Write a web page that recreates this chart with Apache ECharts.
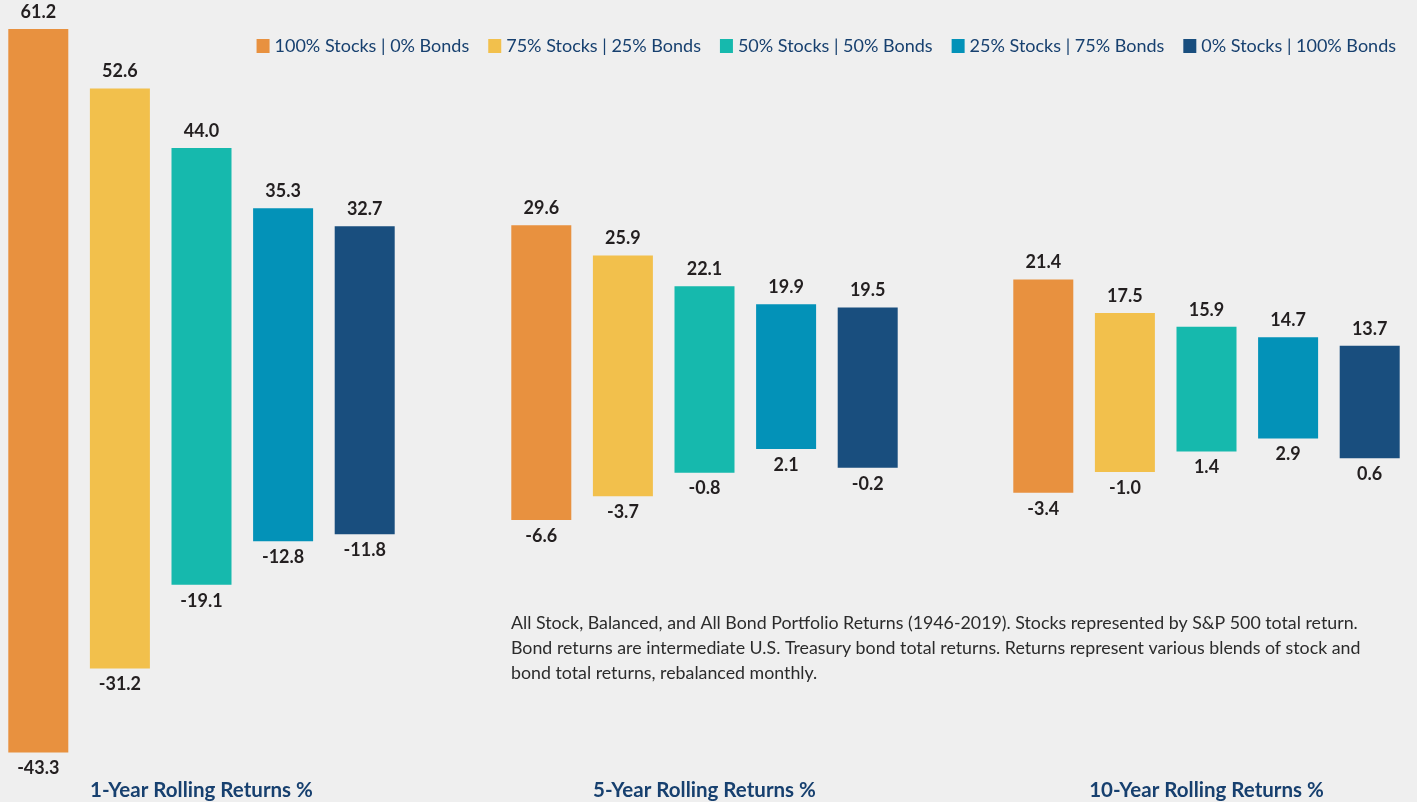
<!DOCTYPE html>
<html>
<head>
<meta charset="utf-8">
<script src="https://cdn.jsdelivr.net/npm/echarts@6/dist/echarts.min.js"></script>
<style>
html,body{margin:0;padding:0;background:#efefef;}
#chart{width:1417px;height:802px;}
</style>
</head>
<body>
<div id="chart"></div>
<script>
// ---- data ----
const groups = ['1-Year Rolling Returns %', '5-Year Rolling Returns %', '10-Year Rolling Returns %'];
const portfolios = ['100% Stocks | 0% Bonds', '75% Stocks | 25% Bonds', '50% Stocks | 50% Bonds', '25% Stocks | 75% Bonds', '0% Stocks | 100% Bonds'];
// high / low per group, in portfolio order
const high1 = [61.2, 52.6, 44.0, 35.3, 32.7];
const low1  = [-43.3, -31.2, -19.1, -12.8, -11.8];
const high5 = [29.6, 25.9, 22.1, 19.9, 19.5];
const low5  = [-6.6, -3.7, -0.8, 2.1, -0.2];
const high10 = [21.4, 17.5, 15.9, 14.7, 13.7];
const low10  = [-3.4, -1.0, 1.4, 2.9, 0.6];
const note = 'All Stock, Balanced, and All Bond Portfolio Returns (1946-2019). Stocks represented by S&P 500 total return.\nBond returns are intermediate U.S. Treasury bond total returns. Returns represent various blends of stock and\nbond total returns, rebalanced monthly.';

// ---- styles ----
const colors = ['#E8913F', '#F2C04C', '#16B9AD', '#0392B8', '#194E7E'];
const highs = [high1, high5, high10];
const lows = [low1, low5, low10];
const gridLeft = [8, 511, 1013];
const gridWidth = 387;
const yRanges = [[-44.4, 65.38], [-36.11, 57.29], [-34.5, 53.93]];
const BAR_FRAC = 60 / 387;
const STEP_FRAC = 81.6 / 387;
const FONT = 'Lato, "Noto Sans", sans-serif';

const chart = echarts.init(document.getElementById('chart'));

const grids = [], xAxes = [], yAxes = [], series = [];
groups.forEach((g, gi) => {
  grids.push({left: gridLeft[gi], width: gridWidth, top: 0, bottom: 42});
  xAxes.push({type: 'category', gridIndex: gi, data: [g],
    axisLine: {show: false}, axisTick: {show: false},
    axisLabel: {margin: 20, color: '#17406F', fontSize: 20.5, fontWeight: 'bold', fontFamily: FONT}});
  yAxes.push({type: 'value', gridIndex: gi, min: yRanges[gi][0], max: yRanges[gi][1], show: false, splitLine: {show: false}});
  portfolios.forEach((p, k) => {
    series.push({
      type: 'custom', name: p, xAxisIndex: gi, yAxisIndex: gi,
      itemStyle: {color: colors[k]},
      data: [[0, lows[gi][k], highs[gi][k]]],
      renderItem: function (params, api) {
        const top = api.coord([api.value(0), api.value(2)]);
        const bot = api.coord([api.value(0), api.value(1)]);
        const band = api.size([1, 0])[0];
        const w = band * BAR_FRAC;
        const cx = top[0] + (k - 2) * band * STEP_FRAC;
        return {type: 'group', children: [
          {type: 'rect', shape: {x: cx - w / 2, y: top[1], width: w, height: bot[1] - top[1]}, style: {fill: api.visual('color')}},
          {type: 'text', style: {text: api.value(2).toFixed(1), x: cx, y: top[1] - 8, align: 'center', verticalAlign: 'bottom', fill: '#231F20', font: 'bold 18px ' + FONT}},
          {type: 'text', style: {text: api.value(1).toFixed(1), x: cx, y: bot[1] + 7, align: 'center', verticalAlign: 'top', fill: '#231F20', font: 'bold 18px ' + FONT}}
        ]};
      }
    });
  });
});

chart.setOption({
  backgroundColor: '#efefef',
  animation: false,
  legend: {data: portfolios, right: 16, top: 32, icon: 'rect', itemWidth: 13, itemHeight: 14, itemGap: 19,
    textStyle: {color: '#17406F', fontSize: 18, fontFamily: FONT}},
  grid: grids, xAxis: xAxes, yAxis: yAxes, series: series,
  graphic: [{type: 'text', left: 511, top: 611, style: {text: note, fill: '#2b2b2b', font: '17.8px ' + FONT, lineHeight: 25}}]
});
</script>
</body>
</html>
